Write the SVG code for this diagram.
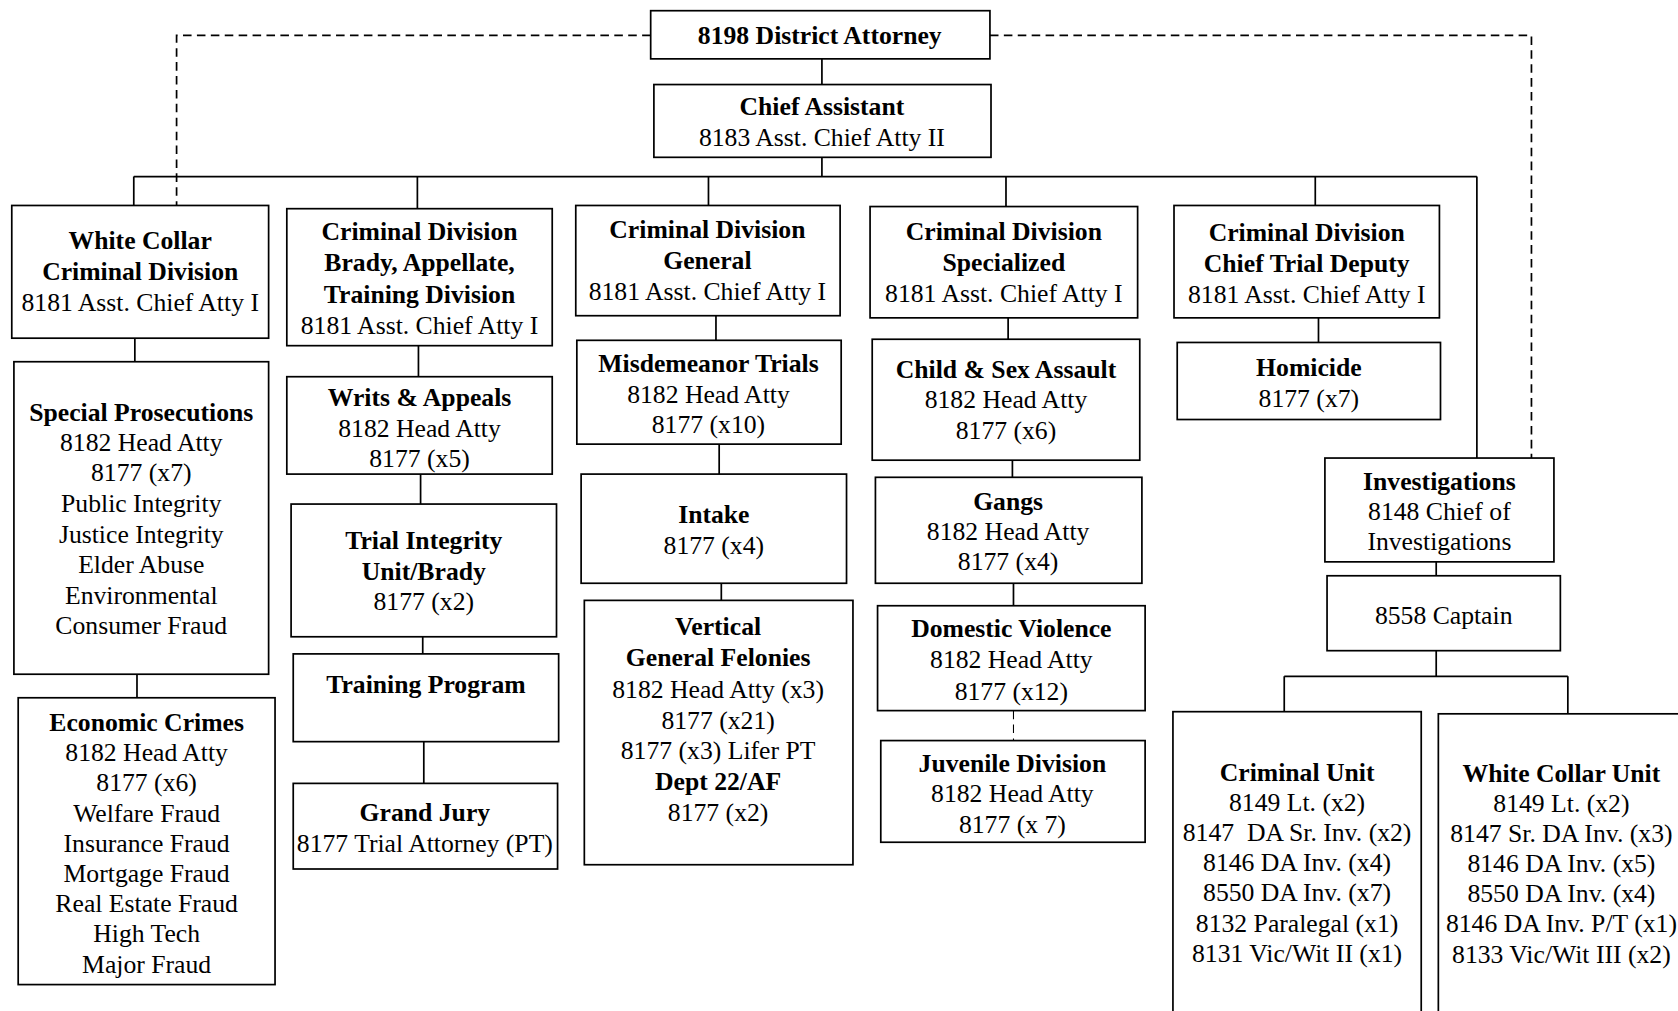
<svg xmlns="http://www.w3.org/2000/svg" width="1678" height="1011" viewBox="0 0 1678 1011">
<style>
.b{fill:#fff;stroke:#000;stroke-width:1.6}
.c{stroke:#000;stroke-width:1.6;fill:none}
.d{stroke:#000;stroke-width:1.6;fill:none;stroke-dasharray:8 5}
text{font-family:"Liberation Serif","Times New Roman",serif;font-size:24px;text-anchor:middle;fill:#000}
.t{font-weight:bold}
</style>
<rect width="1678" height="1011" fill="#fff"/>
<g transform="scale(1.0702)">
<g id="connectors">
<path class="d" d="M608,33 H165 V192"/>
<path class="d" d="M925,33 H1431 V428"/>
<path class="c" d="M768,55 V79 M768,147 V165 M125,165 H1380 M125,165 V192 M390,165 V195 M662,165 V192 M940,165 V193 M1229,165 V192 M1380,165 V428"/>
<path class="c" d="M126,316 V338 M128,630 V652"/>
<path class="c" d="M391,323 V352 M393,443 V471 M395,595 V611 M396,693 V732"/>
<path class="c" d="M669,295 V318 M672,415 V443 M674,545 V561"/>
<path class="c" d="M942,297 V317 M946,430 V446 M947,545 V566"/>
<path class="d" d="M947,664 V692" style="stroke-width:1"/>
<path class="c" d="M1232,297 V320"/>
<path class="c" d="M1342,525 V538 M1342,608 V632 M1200,632 H1465 M1200,632 V665 M1465,632 V667"/>
</g>
<g id="da"><rect class="b" x="608" y="10" width="317" height="45"/><text class="t" x="766" y="41">8198 District Attorney</text></g>
<g id="chief"><rect class="b" x="611" y="79" width="315" height="68"/><text class="t" x="768" y="107">Chief Assistant</text><text x="768" y="136">8183 Asst. Chief Atty II</text></g>
<g id="white-collar-div"><rect class="b" x="11" y="192" width="240" height="124"/><text class="t" x="131" y="233">White Collar</text><text class="t" x="131" y="262">Criminal Division</text><text x="131" y="291">8181 Asst. Chief Atty I</text></g>
<g id="brady-div"><rect class="b" x="268" y="195" width="248" height="128"/><text class="t" x="392" y="224">Criminal Division</text><text class="t" x="392" y="253">Brady, Appellate,</text><text class="t" x="392" y="283">Training Division</text><text x="392" y="312">8181 Asst. Chief Atty I</text></g>
<g id="general-div"><rect class="b" x="538" y="192" width="247" height="103"/><text class="t" x="661" y="222">Criminal Division</text><text class="t" x="661" y="251">General</text><text x="661" y="280">8181 Asst. Chief Atty I</text></g>
<g id="specialized-div"><rect class="b" x="813" y="193" width="250" height="104"/><text class="t" x="938" y="224">Criminal Division</text><text class="t" x="938" y="253">Specialized</text><text x="938" y="282">8181 Asst. Chief Atty I</text></g>
<g id="ctd-div"><rect class="b" x="1097" y="192" width="248" height="105"/><text class="t" x="1221" y="225">Criminal Division</text><text class="t" x="1221" y="254">Chief Trial Deputy</text><text x="1221" y="283">8181 Asst. Chief Atty I</text></g>
<g id="investigations"><rect class="b" x="1238" y="428" width="214" height="97"/><text class="t" x="1345" y="458">Investigations</text><text x="1345" y="486">8148 Chief of</text><text x="1345" y="514">Investigations</text></g>
<g id="special-prosecutions"><rect class="b" x="13" y="338" width="238" height="292"/><text class="t" x="132" y="393">Special Prosecutions</text><text x="132" y="421">8182 Head Atty</text><text x="132" y="449">8177 (x7)</text><text x="132" y="478">Public Integrity</text><text x="132" y="507">Justice Integrity</text><text x="132" y="535">Elder Abuse</text><text x="132" y="564">Environmental</text><text x="132" y="592">Consumer Fraud</text></g>
<g id="economic-crimes"><rect class="b" x="17" y="652" width="240" height="268"/><text class="t" x="137" y="683">Economic Crimes</text><text x="137" y="711">8182 Head Atty</text><text x="137" y="739">8177 (x6)</text><text x="137" y="768">Welfare Fraud</text><text x="137" y="796">Insurance Fraud</text><text x="137" y="824">Mortgage Fraud</text><text x="137" y="852">Real Estate Fraud</text><text x="137" y="880">High Tech</text><text x="137" y="909">Major Fraud</text></g>
<g id="writs"><rect class="b" x="268" y="352" width="248" height="91"/><text class="t" x="392" y="379">Writs &amp; Appeals</text><text x="392" y="408">8182 Head Atty</text><text x="392" y="436">8177 (x5)</text></g>
<g id="trial-integrity"><rect class="b" x="272" y="471" width="248" height="124"/><text class="t" x="396" y="513">Trial Integrity</text><text class="t" x="396" y="542">Unit/Brady</text><text x="396" y="570">8177 (x2)</text></g>
<g id="training"><rect class="b" x="274" y="611" width="248" height="82"/><text class="t" x="398" y="648">Training Program</text></g>
<g id="grand-jury"><rect class="b" x="274" y="732" width="247" height="80"/><text class="t" x="397" y="767">Grand Jury</text><text x="397" y="796">8177 Trial Attorney (PT)</text></g>
<g id="misdemeanor"><rect class="b" x="539" y="318" width="247" height="97"/><text class="t" x="662" y="348">Misdemeanor Trials</text><text x="662" y="377">8182 Head Atty</text><text x="662" y="405">8177 (x10)</text></g>
<g id="intake"><rect class="b" x="543" y="443" width="248" height="102"/><text class="t" x="667" y="489">Intake</text><text x="667" y="518">8177 (x4)</text></g>
<g id="felonies"><rect class="b" x="546" y="561" width="251" height="247"/><text class="t" x="671" y="593">Vertical</text><text class="t" x="671" y="622">General Felonies</text><text x="671" y="652">8182 Head Atty (x3)</text><text x="671" y="681">8177 (x21)</text><text x="671" y="709">8177 (x3) Lifer PT</text><text class="t" x="671" y="738">Dept 22/AF</text><text x="671" y="767">8177 (x2)</text></g>
<g id="child"><rect class="b" x="815" y="317" width="250" height="113"/><text class="t" x="940" y="353">Child &amp; Sex Assault</text><text x="940" y="381">8182 Head Atty</text><text x="940" y="410">8177 (x6)</text></g>
<g id="gangs"><rect class="b" x="818" y="446" width="249" height="99"/><text class="t" x="942" y="477">Gangs</text><text x="942" y="505">8182 Head Atty</text><text x="942" y="533">8177 (x4)</text></g>
<g id="domestic"><rect class="b" x="820" y="566" width="250" height="98"/><text class="t" x="945" y="595">Domestic Violence</text><text x="945" y="624">8182 Head Atty</text><text x="945" y="654">8177 (x12)</text></g>
<g id="juvenile"><rect class="b" x="823" y="692" width="247" height="95"/><text class="t" x="946" y="721">Juvenile Division</text><text x="946" y="749">8182 Head Atty</text><text x="946" y="778">8177 (x 7)</text></g>
<g id="homicide"><rect class="b" x="1100" y="320" width="246" height="72"/><text class="t" x="1223" y="351">Homicide</text><text x="1223" y="380">8177 (x7)</text></g>
<g id="captain"><rect class="b" x="1240" y="538" width="218" height="70"/><text x="1349" y="583">8558 Captain</text></g>
<g id="criminal-unit"><rect class="b" x="1096" y="665" width="232" height="300"/><text class="t" x="1212" y="730">Criminal Unit</text><text x="1212" y="758">8149 Lt. (x2)</text><text x="1212" y="786" style="white-space:pre">8147  DA Sr. Inv. (x2)</text><text x="1212" y="814">8146 DA Inv. (x4)</text><text x="1212" y="842">8550 DA Inv. (x7)</text><text x="1212" y="871">8132 Paralegal (x1)</text><text x="1212" y="899">8131 Vic/Wit II (x1)</text></g>
<g id="white-collar-unit"><rect class="b" x="1344" y="667" width="240" height="300"/><text class="t" x="1459" y="731">White Collar Unit</text><text x="1459" y="759">8149 Lt. (x2)</text><text x="1459" y="787">8147 Sr. DA Inv. (x3)</text><text x="1459" y="815">8146 DA Inv. (x5)</text><text x="1459" y="843">8550 DA Inv. (x4)</text><text x="1459" y="871">8146 DA Inv. P/T (x1)</text><text x="1459" y="900">8133 Vic/Wit III (x2)</text></g>
</g>
</svg>
